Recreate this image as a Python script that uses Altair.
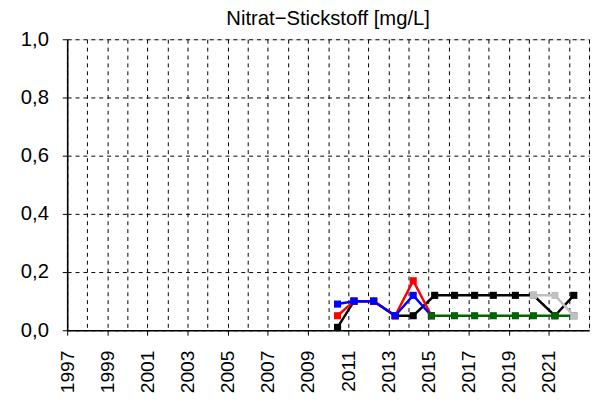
import altair as alt
import pandas as pd

# ---- data ----
series_order = ["schwarz", "rot", "blau", "gruen", "grau"]
series_colors = ["#000000", "#FF0000", "#0000FF", "#006400", "#C0C0C0"]

black_x = [2010.47, 2011.29, 2012.27, 2013.34, 2014.24, 2015.31, 2016.30, 2017.30, 2018.23, 2019.33, 2020.23, 2021.30, 2022.24]
black_y = [0.01, 0.10, 0.10, 0.05, 0.05, 0.12, 0.12, 0.12, 0.12, 0.12, 0.12, 0.05, 0.12]

red_x = [2010.47, 2011.29, 2012.27, 2013.34, 2014.24, 2015.15]
red_y = [0.05, 0.10, 0.10, 0.05, 0.17, 0.05]

blue_x = [2010.47, 2011.29, 2012.27, 2013.34, 2014.24, 2015.15]
blue_y = [0.09, 0.10, 0.10, 0.05, 0.12, 0.05]

green_x = [2015.15, 2016.30, 2017.30, 2018.23, 2019.33, 2020.23, 2021.30, 2022.24]
green_y = [0.05, 0.05, 0.05, 0.05, 0.05, 0.05, 0.05, 0.05]

grey_x = [2020.23, 2021.30, 2022.24]
grey_y = [0.12, 0.12, 0.05]

year_grid = list(range(1997, 2024))
y_ticks = [0.0, 0.2, 0.4, 0.6, 0.8, 1.0]
title_text = "Nitrat\u2212Stickstoff [mg/L]"

FONT = "Liberation Sans"

series_data = {
    "schwarz": (black_x, black_y),
    "rot": (red_x, red_y),
    "blau": (blue_x, blue_y),
    "gruen": (green_x, green_y),
    "grau": (grey_x, grey_y),
}

label_test = "datum.value % 2 == 1 && datum.value <= 2021"

x_enc = alt.X(
    "x:Q",
    scale=alt.Scale(domain=[1997, 2023], nice=False, zero=False),
    axis=alt.Axis(
        values=year_grid,
        labelExpr=f"({label_test}) ? datum.label : ''",
        format="d",
        labelAngle=270,
        labelAlign="right",
        labelBaseline="middle",
        labelFont=FONT,
        labelFontSize=19.5,
        labelColor="black",
        labelPadding=15,
        labelOverlap=False,
        labelFlush=False,
        tickSize=5,
        tickColor="black",
        tickWidth=1,
        tickOpacity={"condition": {"test": label_test, "value": 1}, "value": 0},
        grid=True,
        gridColor="black",
        gridDash=[4, 4],
        gridWidth=1,
        domainColor="black",
        domainWidth=1.6,
        title=None,
    ),
)

y_enc = alt.Y(
    "y:Q",
    scale=alt.Scale(domain=[0, 1], nice=False, zero=True),
    axis=alt.Axis(
        values=y_ticks,
        labelExpr="replace(format(datum.value, '.1f'), '.', ',')",
        labelFont=FONT,
        labelFontSize=20.5,
        labelColor="black",
        labelPadding=14,
        tickSize=5,
        tickColor="black",
        tickWidth=1,
        grid=True,
        gridColor="black",
        gridDash=[4, 4],
        gridWidth=1,
        domainColor="black",
        domainWidth=1.6,
        title=None,
    ),
)

layers = []
for name, color in zip(series_order, series_colors):
    xs, ys = series_data[name]
    df = pd.DataFrame({"x": xs, "y": ys})
    base = alt.Chart(df).encode(x=x_enc, y=y_enc)
    layers.append(base.mark_line(color=color, strokeWidth=2.5, clip=False))
    layers.append(
        base.mark_point(shape="square", filled=True, size=52, color=color, opacity=1, clip=False)
    )

chart = (
    alt.layer(*layers)
    .properties(
        width=529,
        height=295,
        padding={"left": 60, "top": 29, "right": 2, "bottom": 68},
        autosize=alt.AutoSizeParams(type="none"),
        title=alt.TitleParams(
            title_text,
            font=FONT,
            fontSize=20.5,
            fontWeight="normal",
            color="black",
            anchor="middle",
            offset=0,
        ),
    )
    .configure_view(stroke="black", strokeWidth=1.5)
    .configure(background="white")
)

chart.save("out.html", embed_options={"renderer": "svg", "actions": False})
